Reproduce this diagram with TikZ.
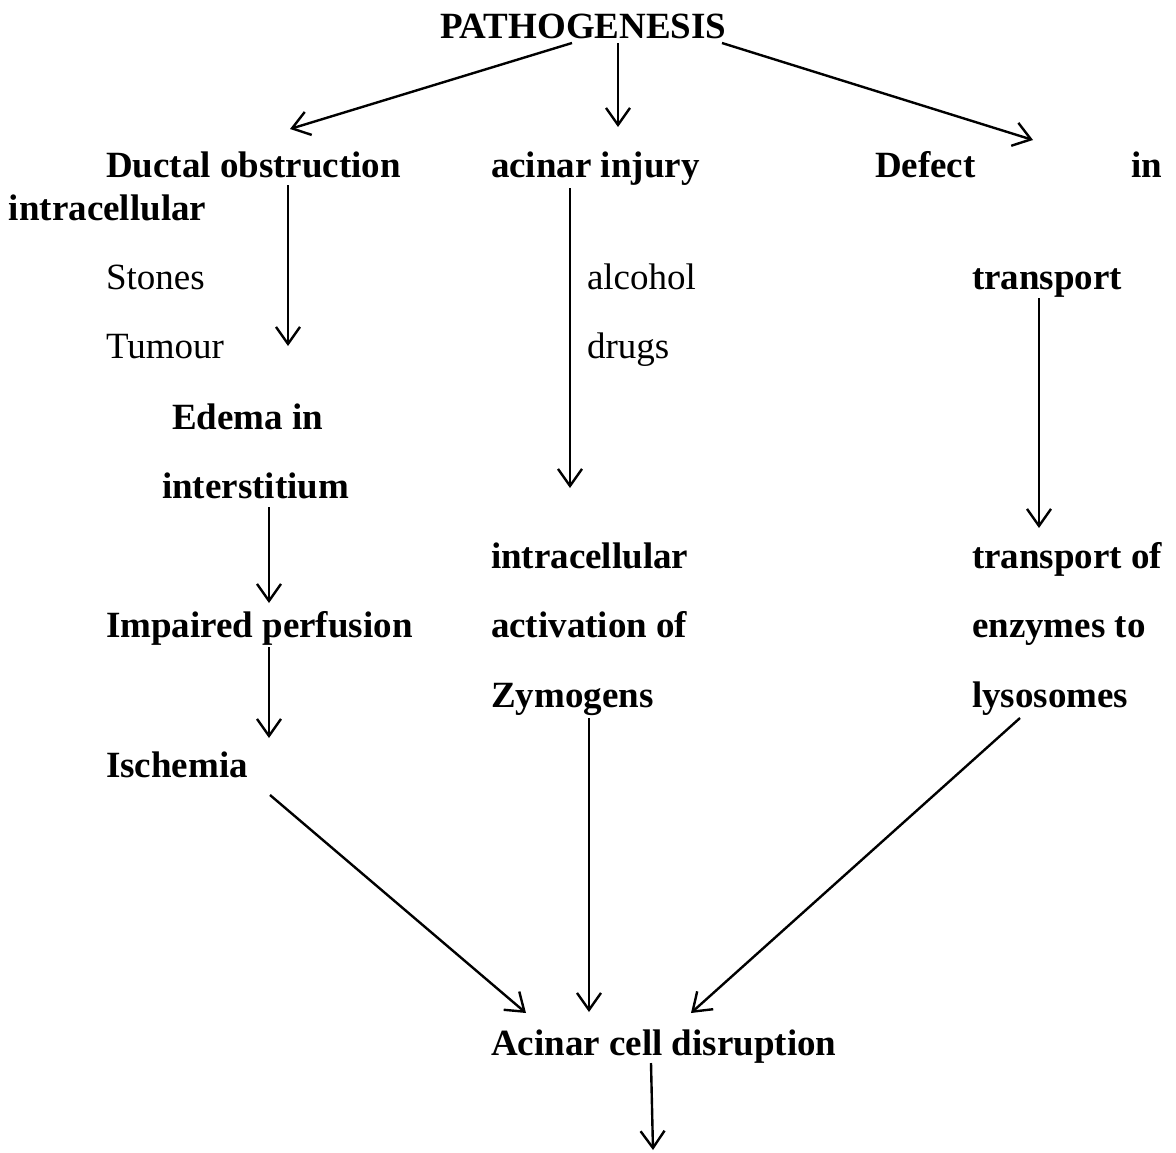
\documentclass[tikz,border=0pt]{standalone}
\usepackage{fontspec}
\setmainfont{Liberation Serif}
\usetikzlibrary{arrows.meta}
\tikzset{
  lbl/.style={anchor=base west, inner sep=0pt, outer sep=0pt, font=\fontsize{37}{44}\selectfont\bfseries},
  plain/.style={anchor=base west, inner sep=0pt, outer sep=0pt, font=\fontsize{37}{44}\selectfont},
  arr/.style={line width=2.4pt, -{Straight Barb[length=17pt,width=24pt,line width=2.4pt]}}
}
\begin{document}
\begin{tikzpicture}[x=1pt,y=-1pt]
\useasboundingbox (0,0) rectangle (1176,1152);
% nodes
\node[lbl] (title) at (440,38) {PATHOGENESIS};
\node[lbl] (ductal) at (106,177) {Ductal obstruction};
\node[lbl] (acinar) at (491,177) {acinar injury};
\node[lbl] (defect) at (875,177) {Defect};
\node[lbl] (in) at (1131,177) {in};
\node[lbl] (intra1) at (9,220) {intracellular};
\node[plain] (stones) at (106,289) {Stones};
\node[plain] (alcohol) at (587,289) {alcohol};
\node[lbl] (transport) at (972,289) {transport};
\node[plain] (tumour) at (106,358) {Tumour};
\node[plain] (drugs) at (587,358) {drugs};
\node[lbl] (edema) at (172,429) {Edema in};
\node[lbl] (inter) at (162,498) {interstitium};
\node[lbl] (intra2) at (491,568) {intracellular};
\node[lbl] (tof) at (972,568) {transport of};
\node[lbl] (impaired) at (106,637) {Impaired perfusion};
\node[lbl] (activ) at (491,637) {activation of};
\node[lbl] (enz) at (972,637) {enzymes to};
\node[lbl] (zymo) at (491,707) {Zymogens};
\node[lbl] (lyso) at (972,707) {lysosomes};
\node[lbl] (isch) at (106,777) {Ischemia};
\node[lbl] (acd) at (491,1055) {Acinar cell disruption};
\coordinate (end) at (653,1150);
% connectors
\draw[arr] ([shift={(132,5)}]title.base west) -- ([shift={(184,-48)}]ductal.base west);
\draw[arr] ([shift={(178,5)}]title.base west) -- ([shift={(127,-50)}]acinar.base west);
\draw[arr] ([shift={(282,5)}]title.base west) -- ([shift={(158,-37)}]defect.base west);
\draw[arr] ([shift={(182,8)}]ductal.base west) -- ([shift={(182,-12)}]tumour.base west);
\draw[arr] ([shift={(79,11)}]acinar.base west) -- ([shift={(79,-80)}]intra2.base west);
\draw[arr] ([shift={(67,9)}]transport.base west) -- ([shift={(67,-40)}]tof.base west);
\draw[arr] ([shift={(107,9)}]inter.base west) -- ([shift={(163,-34)}]impaired.base west);
\draw[arr] ([shift={(163,10)}]impaired.base west) -- ([shift={(163,-39)}]isch.base west);
\draw[arr] ([shift={(98,11)}]zymo.base west) -- ([shift={(98,-43)}]acd.base west);
\draw[arr] ([shift={(164,18)}]isch.base west) -- ([shift={(35,-42)}]acd.base west);
\draw[arr] ([shift={(48,11)}]lyso.base west) -- ([shift={(200,-42)}]acd.base west);
\draw[arr] ([shift={(160,8)}]acd.base west) -- (end);
\end{tikzpicture}
\end{document}
